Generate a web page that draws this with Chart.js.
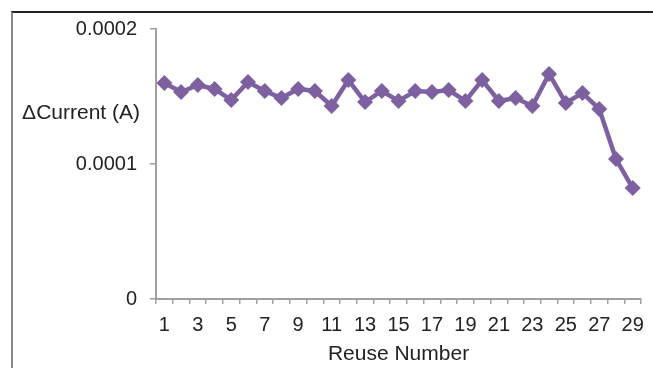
<!DOCTYPE html>
<html>
<head>
<meta charset="utf-8">
<script src="https://cdn.jsdelivr.net/npm/chart.js@4.4.1/dist/chart.umd.min.js"></script>
<style>
    html, body { margin: 0; padding: 0; background: #fff; }
    #wrap { position: relative; width: 653px; height: 368px; }
    #frame {
        position: absolute; left: 11px; top: 11px; right: 0; bottom: 0;
        border-top: 2px solid #222; border-left: 2px solid #8a8a8a;
        pointer-events: none;
    }
</style>
</head>
<body>
<div id="wrap">
    <canvas id="chart" width="653" height="368"></canvas>
    <div id="frame"></div>
</div>
<script>
const reuseNumbers = Array.from({ length: 29 }, (_, i) => String(i + 1));

const currentDelta = [
    0.0001600, 0.0001533, 0.0001585, 0.0001556, 0.0001474,
    0.0001607, 0.0001541, 0.0001489, 0.0001556, 0.0001541,
    0.0001430, 0.0001622, 0.0001459, 0.0001541, 0.0001467,
    0.0001541, 0.0001533, 0.0001548, 0.0001467, 0.0001622,
    0.0001467, 0.0001489, 0.0001430, 0.0001667, 0.0001452,
    0.0001526, 0.0001407, 0.0001037, 0.0000822,
];

const yTicks = [0, 0.0001, 0.0002];

const AXIS_GREY = '#a0a0a0';
const TEXT_COLOR = '#222';
const LINE_COLOR = '#7d60a0';

// y axis title sits horizontally, left of the axis, so draw it ourselves
const yTitlePlugin = {
    id: 'yTitle',
    afterDraw(chart) {
        const { ctx, chartArea } = chart;
        ctx.save();
        ctx.font = '21px "Liberation Sans", Arial, sans-serif';
        ctx.fillStyle = TEXT_COLOR;
        ctx.textAlign = 'right';
        ctx.textBaseline = 'middle';
        ctx.fillText('\u0394Current (A)', chartArea.left - 16, chartArea.top + 84);
        ctx.restore();
    },
};

new Chart(document.getElementById('chart'), {
    type: 'line',
    data: {
        labels: reuseNumbers,
        datasets: [{
            data: currentDelta,
            borderColor: LINE_COLOR,
            backgroundColor: LINE_COLOR,
            borderWidth: 4.5,
            pointStyle: 'rectRot',
            pointRadius: 8,
            pointBorderWidth: 0,
            tension: 0,
        }],
    },
    options: {
        responsive: false,
        animation: false,
        layout: { padding: { left: 0, top: 29, right: 10, bottom: 0 } },
        plugins: {
            legend: { display: false },
            tooltip: { enabled: false },
        },
        font: { family: '"Liberation Sans", Arial, sans-serif' },
        scales: {
            x: {
                offset: true,
                grid: {
                    offset: true,
                    drawOnChartArea: false,
                    color: AXIS_GREY,
                    lineWidth: 1.5,
                    tickLength: 5,
                },
                border: { color: AXIS_GREY, width: 2 },
                ticks: {
                    autoSkip: false,
                    maxRotation: 0,
                    padding: 9,
                    color: TEXT_COLOR,
                    font: { size: 20 },
                    callback: (value, index) => (index % 2 === 0 ? reuseNumbers[index] : ''),
                },
                title: {
                    display: true,
                    text: 'Reuse Number',
                    color: TEXT_COLOR,
                    font: { size: 21 },
                    padding: { top: 0, bottom: 1 },
                },
                afterFit: (scale) => { scale.height = 69; },
            },
            y: {
                min: 0,
                max: 0.0002,
                afterBuildTicks: (scale) => { scale.ticks = yTicks.map((v) => ({ value: v })); },
                grid: {
                    drawOnChartArea: false,
                    color: AXIS_GREY,
                    lineWidth: 1.5,
                    tickLength: 6,
                },
                border: { color: AXIS_GREY, width: 2 },
                ticks: {
                    padding: 13,
                    color: TEXT_COLOR,
                    font: { size: 20 },
                    callback: (value) => (value === 0 ? '0' : value.toFixed(4)),
                },
                afterFit: (scale) => { scale.width = 156; },
            },
        },
    },
    plugins: [yTitlePlugin],
});
</script>
</body>
</html>
